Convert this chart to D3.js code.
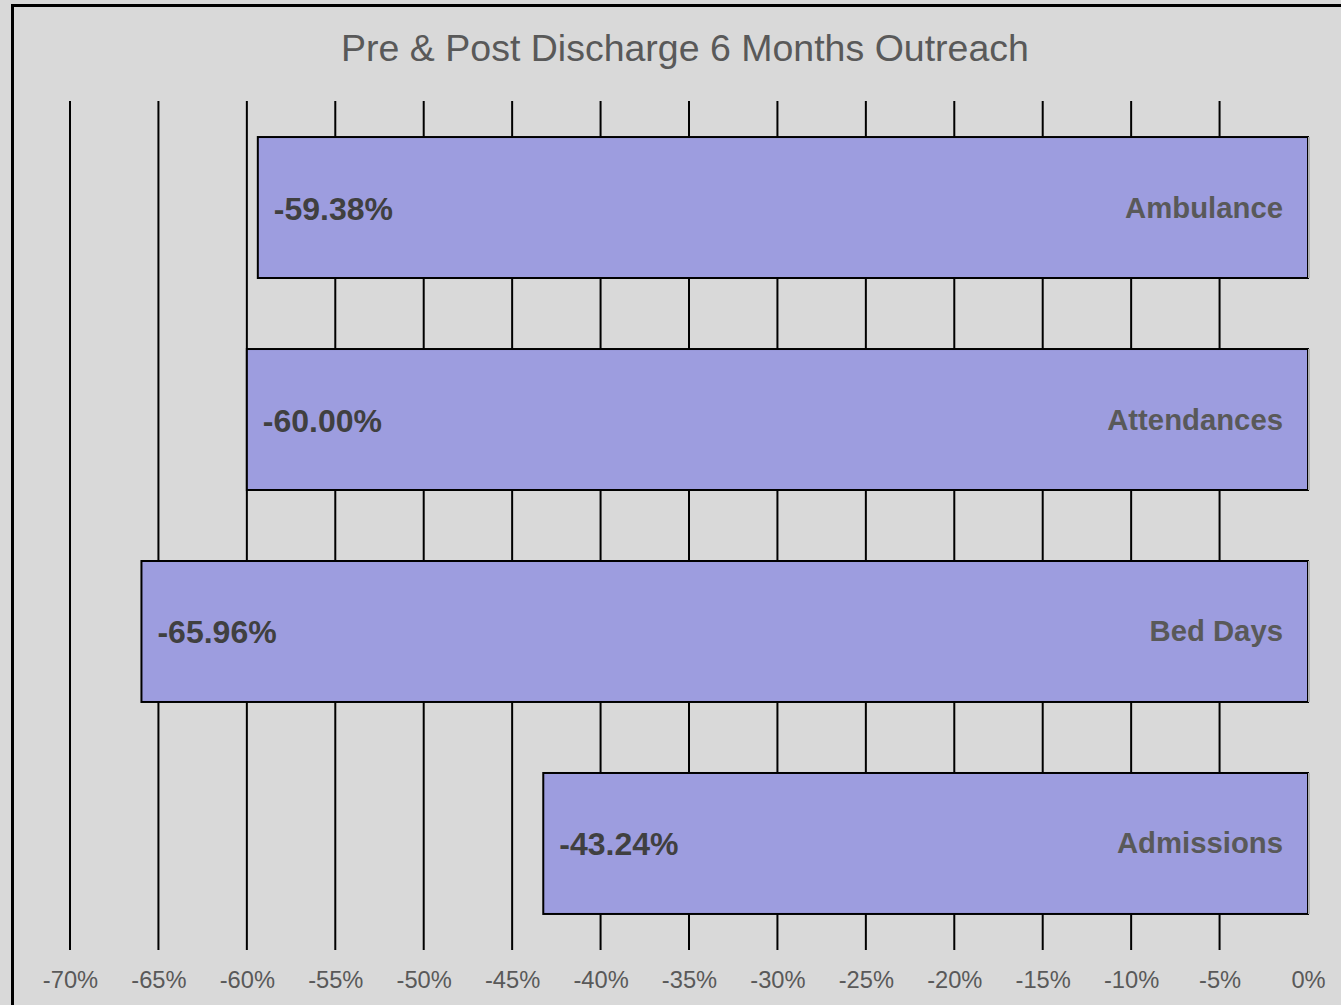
<!DOCTYPE html>
<html>
<head>
<meta charset="utf-8">
<script src="https://cdn.jsdelivr.net/npm/d3@7"></script>
<style>
  html, body { margin: 0; padding: 0; background: #fff; }
  svg { display: block; font-family: "Liberation Sans", Arial, sans-serif; }
</style>
</head>
<body>
<div id="chart"></div>
<script>
// data
const categories = ['Ambulance', 'Attendances', 'Bed Days', 'Admissions']
const values = [-59.38, -60.00, -65.96, -43.24]
const tickValues = [-70, -65, -60, -55, -50, -45, -40, -35, -30, -25, -20, -15, -10, -5, 0]

const width = 1341
const height = 1005

const svg = d3.select('#chart').append('svg').attr('width', width).attr('height', height)

// background and frame
svg.append('rect').attr('x', 0).attr('y', 0).attr('width', width).attr('height', height).attr('fill', '#d9d9d9')
svg.append('rect').attr('x', 12.5).attr('y', 5.5).attr('width', width + 20).attr('height', height + 20)
  .attr('fill', 'none').attr('stroke', '#000').attr('stroke-width', 3)

// title
svg.append('text').text('Pre & Post Discharge 6 Months Outreach')
  .attr('x', 685).attr('y', 61).attr('text-anchor', 'middle')
  .attr('font-size', 37.5).attr('fill', '#595959')

// scales
const xScale = d3.scaleLinear().domain([-70, 0]).range([70, 1308])
const yScale = d3.scaleBand().domain(categories).range([101, 950]).paddingInner(0.335).paddingOuter(0.17)

// grid lines (no line at 0%)
svg.append('g').selectAll('line').data(tickValues.filter(d => d !== 0)).join('line')
  .attr('x1', d => xScale(d)).attr('x2', d => xScale(d))
  .attr('y1', 101).attr('y2', 950)
  .attr('stroke', '#000').attr('stroke-width', 2)

// x axis labels
const xAxis = d3.axisBottom(xScale).tickValues(tickValues).tickSize(0).tickPadding(0)
  .tickFormat(d => d + '%')
const axG = svg.append('g').attr('transform', 'translate(0,971)').call(xAxis)
axG.select('.domain').remove()
axG.selectAll('text').attr('font-size', 23.7).attr('fill', '#595959')
  .attr('font-family', '"Liberation Sans", Arial, sans-serif').attr('dy', '0.71em')

// bars
const bars = svg.append('g').selectAll('g').data(categories).join('g')
bars.append('rect')
  .attr('x', (d, i) => xScale(values[i]))
  .attr('y', d => yScale(d))
  .attr('width', (d, i) => xScale(0) - xScale(values[i]))
  .attr('height', yScale.bandwidth())
  .attr('fill', '#9d9ddf')
  .attr('stroke', '#000').attr('stroke-width', 2)
// light right edge of the bar at 0%
bars.append('line')
  .attr('x1', xScale(0) + 1).attr('x2', xScale(0) + 1)
  .attr('y1', d => yScale(d)).attr('y2', d => yScale(d) + yScale.bandwidth())
  .attr('stroke', '#b0b0b0').attr('stroke-width', 2)

// value labels
bars.append('text').text((d, i) => values[i].toFixed(2) + '%')
  .attr('x', (d, i) => xScale(values[i]) + 16)
  .attr('y', d => yScale(d) + yScale.bandwidth() / 2 + 12)
  .attr('font-size', 32).attr('font-weight', 'bold').attr('fill', '#404040')

// category labels
bars.append('text').text(d => d)
  .attr('x', 1283).attr('text-anchor', 'end')
  .attr('y', d => yScale(d) + yScale.bandwidth() / 2 + 10)
  .attr('font-size', 29.3).attr('font-weight', 'bold').attr('fill', '#595959')
</script>
</body>
</html>
